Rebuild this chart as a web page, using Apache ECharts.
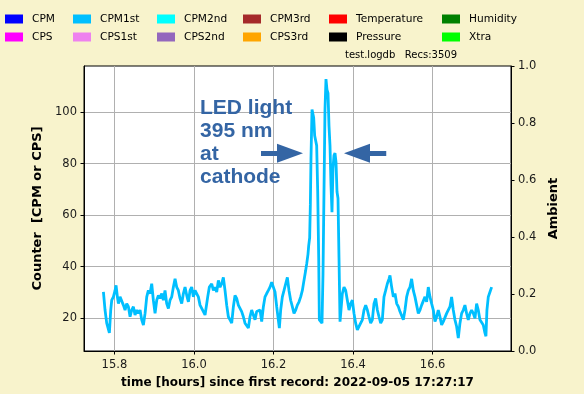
<!DOCTYPE html>
<html><head><meta charset="utf-8">
<script src="https://cdn.jsdelivr.net/npm/echarts@6/dist/echarts.min.js"></script>
<style>html,body{margin:0;padding:0;background:#f8f3cc;} #c{width:584px;height:394px;}</style>
</head><body><div id="c"></div>
<script>
// time [hours] since first record
const timeHours = [
15.7724,15.7765,15.7807,15.7874,15.7908,15.7933,15.7975,15.8017,15.8042,15.8075,
15.8101,15.8142,15.8184,15.8226,15.8268,15.8310,15.8352,15.8394,15.8436,15.8477,
15.8519,15.8561,15.8603,15.8645,15.8687,15.8729,15.8771,15.8813,15.8854,15.8896,
15.8938,15.8980,15.9022,15.9064,15.9106,15.9148,15.9190,15.9231,15.9273,15.9315,
15.9357,15.9399,15.9441,15.9483,15.9525,15.9566,15.9608,15.9650,15.9692,15.9734,
15.9776,15.9818,15.9860,15.9902,15.9943,15.9985,16.0027,16.0069,16.0111,16.0153,
16.0195,16.0237,16.0279,16.0304,16.0346,16.0387,16.0446,16.0488,16.0530,16.0572,
16.0614,16.0656,16.0697,16.0739,16.0781,16.0823,16.0865,16.0907,16.0949,16.0991,
16.1032,16.1074,16.1116,16.1158,16.1200,16.1242,16.1284,16.1326,16.1368,16.1409,
16.1451,16.1493,16.1535,16.1577,16.1619,16.1661,16.1703,16.1745,16.1786,16.1828,
16.1870,16.1912,16.1954,16.1996,16.2038,16.2080,16.2121,16.2147,16.2180,16.2222,
16.2264,16.2306,16.2348,16.2389,16.2431,16.2473,16.2515,16.2557,16.2599,16.2641,
16.2683,16.2725,16.2766,16.2808,16.2834,16.2867,16.2884,16.2909,16.2926,16.2942,
16.2968,16.2985,16.3010,16.3035,16.3060,16.3085,16.3111,16.3136,16.3152,16.3186,
16.3219,16.3244,16.3269,16.3294,16.3319,16.3344,16.3370,16.3395,16.3420,16.3445,
16.3470,16.3495,16.3520,16.3546,16.3571,16.3596,16.3621,16.3646,16.3672,16.3697,
16.3730,16.3772,16.3814,16.3856,16.3898,16.3940,16.3982,16.4023,16.4065,16.4107,
16.4149,16.4191,16.4233,16.4275,16.4317,16.4359,16.4400,16.4442,16.4484,16.4526,
16.4568,16.4610,16.4652,16.4694,16.4735,16.4777,16.4819,16.4861,16.4903,16.4928,
16.4970,16.5012,16.5054,16.5096,16.5138,16.5179,16.5221,16.5263,16.5305,16.5347,
16.5389,16.5431,16.5472,16.5514,16.5556,16.5598,16.5640,16.5682,16.5724,16.5766,
16.5807,16.5849,16.5891,16.5933,16.5975,16.6017,16.6059,16.6101,16.6142,16.6184,
16.6226,16.6268,16.6310,16.6352,16.6394,16.6436,16.6477,16.6519,16.6561,16.6603,
16.6645,16.6687,16.6729,16.6771,16.6812,16.6854,16.6896,16.6938,16.6980,16.7022,
16.7064,16.7106,16.7147,16.7189,16.7231,16.7273,16.7315,16.7340,16.7365,16.7399,
16.7441,16.7483
];
// CPM1st counter values
const cpm1st = [
30.2,23.2,18.1,14.3,23.2,27.0,28.3,30.8,32.8,28.3,
25.7,28.3,28.9,25.1,23.2,25.7,24.5,20.6,23.2,24.5,
21.3,23.2,21.9,23.2,19.4,17.4,21.9,28.3,30.8,29.6,
33.4,27.0,21.9,27.0,28.9,27.7,29.6,27.0,30.8,25.7,
23.8,27.0,28.3,32.1,35.3,32.1,30.8,27.7,25.7,29.6,
32.1,28.9,26.4,30.8,32.1,28.3,30.8,31.5,28.3,25.1,
25.7,22.6,21.3,20.6,28.3,32.1,33.4,30.8,32.1,30.2,
34.7,32.1,33.4,35.9,30.8,25.1,20.6,19.4,18.1,24.5,
28.9,27.7,25.1,24.5,22.6,20.6,18.1,17.4,16.2,20.6,
23.2,21.3,19.4,22.6,21.9,23.2,18.7,24.5,28.3,29.6,
30.8,32.1,34.0,32.1,30.2,24.5,19.4,16.2,23.2,28.3,
30.8,33.4,35.9,30.8,27.0,24.5,21.9,23.2,25.1,26.4,
28.3,30.8,34.7,38.5,41.1,44.9,48.1,51.3,64.0,81.9,
101.0,101.7,97.8,90.8,91.5,87.0,69.1,43.6,19.4,18.7,
18.1,37.2,69.1,101.0,112.8,108.7,107.4,94.6,87.0,71.7,
61.2,78.1,83.2,84.1,80.6,69.1,66.6,43.6,18.7,18.1,
29.6,32.1,30.8,27.0,23.2,25.7,27.0,21.9,18.1,15.5,
14.9,18.1,19.4,23.2,25.1,23.2,20.6,18.1,19.4,25.7,
27.7,23.2,20.6,18.1,19.4,28.3,30.8,33.4,35.3,36.6,
32.1,28.3,29.6,25.7,24.5,22.6,23.2,19.4,23.2,28.3,
30.8,32.1,35.3,30.8,28.3,25.1,21.9,23.2,25.1,25.7,
28.3,26.4,32.1,28.3,25.7,23.2,18.7,20.6,23.2,20.6,
17.4,18.7,19.4,21.9,21.9,24.5,28.3,23.2,19.4,16.8,
12.3,18.1,21.9,23.2,25.1,21.9,19.4,21.9,23.2,21.9,
20.0,25.7,23.2,19.4,20.0,17.4,14.3,13.0,23.2,28.3,
30.2,32.1
];
const xTicks = [15.8, 16.0, 16.2, 16.4, 16.6];
const counterTicks = [20, 40, 60, 80, 100];
const xRange = [15.7236, 16.797];
const counterRange = [7.3, 117.9];
const ambientRange = [0, 1];
const legendColumns = [
  ['CPM', 'CPS'], ['CPM1st', 'CPS1st'], ['CPM2nd', 'CPS2nd'],
  ['CPM3rd', 'CPS3rd'], ['Temperature', 'Pressure'], ['Humidity', 'Xtra']
];
const legendColors = {
  CPM: '#0000ff', CPS: '#ff00ff', CPM1st: '#00bfff', CPS1st: '#ee82ee',
  CPM2nd: '#00ffff', CPS2nd: '#9467bd', CPM3rd: '#a52a2a', CPS3rd: '#ffa500',
  Temperature: '#ff0000', Pressure: '#000000', Humidity: '#008000', Xtra: '#00ff00'
};
const annotationLines = ['LED light', '395 nm', 'at', 'cathode'];
const annotationAnchor = [16.0153, 101.4];
const arrows = [
  [[16.1686, 84.0], [16.2415, 84.0]],
  [[16.4834, 84.0], [16.4098, 84.0]]
];
const infoText = 'test.logdb   Recs:3509';

const legendLefts = [5, 73, 157, 243, 329, 442];
const FONT = 'DejaVu Sans';
const chart = echarts.init(document.getElementById('c'));

const series = [];
legendColumns.flat().forEach(name => {
  if (name === 'CPM1st') return;
  series.push({ name, type: 'line', data: [], color: legendColors[name], showSymbol: false });
});
series.push({
  name: 'CPM1st', type: 'line', color: legendColors.CPM1st,
  data: timeHours.map((t, i) => [t, cpm1st[i]]),
  showSymbol: false, symbol: 'none',
  lineStyle: { width: 2.8, color: legendColors.CPM1st },
  z: 5,
  markLine: {
    silent: true, symbol: ['none', 'triangle'], symbolSize: [19, 26],
    lineStyle: { color: '#3465a4', width: 5, type: 'solid' },
    label: { show: false },
    data: arrows.map(a => [{ coord: a[0] }, { coord: a[1] }])
  }
});

const legends = legendColumns.map((col, i) => ({
  orient: 'vertical', left: legendLefts[i], top: 13, padding: 0,
  data: col, icon: 'rect', itemWidth: 18, itemHeight: 9, itemGap: 6,
  selectedMode: false,
  textStyle: { fontSize: 10.6, fontFamily: FONT, color: '#000', lineHeight: 12, padding: [0, 0, 0, 4] }
}));

const tickStyle = { show: true, length: 3.5, lineStyle: { color: '#000', width: 1 } };
const labelStyle = { fontSize: 11.5, fontFamily: FONT, color: '#1a1a1a' };

chart.setOption({
  animation: false,
  backgroundColor: '#f8f3cc',
  legend: legends,
  grid: { left: 84, right: 73, top: 66, bottom: 39, show: true, backgroundColor: '#ffffff', borderColor: '#000', borderWidth: 1 },
  xAxis: {
    type: 'value', min: xRange[0], max: xRange[1],
    axisLine: { show: true, onZero: false, lineStyle: { color: '#000' } },
    axisTick: Object.assign({ customValues: xTicks }, tickStyle),
    axisLabel: Object.assign({ customValues: xTicks, margin: 8, formatter: v => v.toFixed(1) }, labelStyle),
    splitLine: { show: true, lineStyle: { color: '#b0b0b0', width: 1 } },
    name: 'time [hours] since first record: 2022-09-05 17:27:17',
    nameLocation: 'middle', nameGap: 26,
    nameTextStyle: { fontSize: 12, fontWeight: 'bold', fontFamily: FONT, color: '#000' }
  },
  yAxis: [{
    type: 'value', min: counterRange[0], max: counterRange[1], position: 'left',
    axisLine: { show: true, onZero: false, lineStyle: { color: '#000' } },
    axisTick: Object.assign({ customValues: counterTicks }, tickStyle),
    axisLabel: Object.assign({ customValues: counterTicks, margin: 7 }, labelStyle),
    splitLine: { show: true, lineStyle: { color: '#b0b0b0', width: 1 } },
    name: 'Counter  [CPM or CPS]', nameLocation: 'middle', nameGap: 36,
    nameTextStyle: { fontSize: 13, fontWeight: 'bold', fontFamily: FONT, color: '#000' }
  }, {
    type: 'value', min: ambientRange[0], max: ambientRange[1], interval: 0.2, position: 'right',
    axisLine: { show: true, onZero: false, lineStyle: { color: '#000' } },
    axisTick: tickStyle,
    axisLabel: Object.assign({ margin: 7, formatter: v => v.toFixed(1) }, labelStyle),
    splitLine: { show: false },
    name: 'Ambient', nameLocation: 'middle', nameGap: 31,
    nameTextStyle: { fontSize: 13, fontWeight: 'bold', fontFamily: FONT, color: '#000' }
  }],
  series
});

const p = chart.convertToPixel({ xAxisIndex: 0, yAxisIndex: 0 }, annotationAnchor);
chart.setOption({
  graphic: [{
    type: 'text', left: p[0], top: p[1] - 11.5, z: 10,
    style: { text: annotationLines.join('\n'), font: 'bold 21px "Liberation Sans"', lineHeight: 23, fill: '#3465a4' }
  }, {
    type: 'text', right: 584 - 457, top: 50,
    style: { text: infoText, font: '10px "DejaVu Sans"', fill: '#000' }
  }]
});
</script></body></html>
